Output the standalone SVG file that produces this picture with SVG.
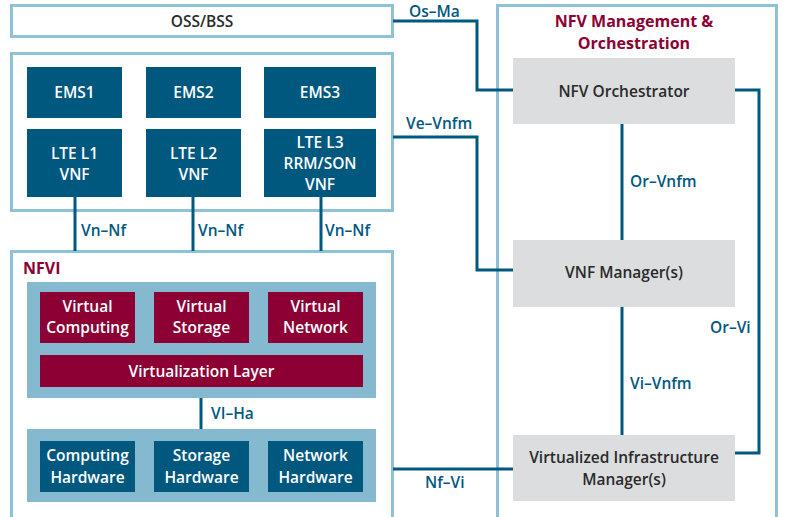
<svg xmlns="http://www.w3.org/2000/svg" width="785" height="517" viewBox="0 0 785 517">
<style>
.cont{fill:#fff;stroke:#8fc1d7;stroke-width:3}
.blue{fill:#00587f}
.red{fill:#8c0033}
.band{fill:#84b9d0}
.grey{fill:#dcdddf}
.wt{fill:#fff;font-family:"Open Sans","Liberation Sans",sans-serif;font-size:15.5px;font-weight:600;text-anchor:middle}
.dt{fill:#2a2a2a;font-family:"Open Sans","Liberation Sans",sans-serif;font-size:15.5px;font-weight:600;text-anchor:middle}
.lbl{fill:#00587f;font-family:"Open Sans","Liberation Sans",sans-serif;font-size:15.5px;font-weight:600}
.ttl{fill:#8c0033;font-family:"Open Sans","Liberation Sans",sans-serif;font-size:16px;font-weight:700}
.ln{fill:none;stroke:#00587f;stroke-width:3}
</style>
<rect width="785" height="517" fill="#fff"/>
<g id="oss">
<rect class="cont" x="11.5" y="5.5" width="381" height="31"/>
<text class="dt" x="202" y="27">OSS/BSS</text>
</g>
<g id="mano">
<rect class="cont" x="497.5" y="5.5" width="279" height="520"/>
<text class="ttl" x="634" y="27" text-anchor="middle">NFV Management &amp;</text>
<text class="ttl" x="634" y="49" text-anchor="middle">Orchestration</text>
</g>
<g id="vnf-domain">
<rect class="cont" x="11.5" y="53.5" width="381" height="157"/>
</g>
<g id="ems1"><rect class="blue" x="27" y="67" width="95" height="51"/><text class="wt" x="74.5" y="98">EMS1</text></g>
<g id="ems2"><rect class="blue" x="146" y="67" width="95" height="51"/><text class="wt" x="193.5" y="98">EMS2</text></g>
<g id="ems3"><rect class="blue" x="264" y="67" width="112" height="51"/><text class="wt" x="320" y="98">EMS3</text></g>
<g id="vnf1"><rect class="blue" x="27" y="129" width="95" height="68"/><text class="wt" x="74.5" y="159">LTE L1</text><text class="wt" x="74.5" y="180.4">VNF</text></g>
<g id="vnf2"><rect class="blue" x="146" y="129" width="95" height="68"/><text class="wt" x="193.5" y="159">LTE L2</text><text class="wt" x="193.5" y="180.4">VNF</text></g>
<g id="vnf3"><rect class="blue" x="264" y="129" width="112" height="68"/><text class="wt" x="320" y="147.6">LTE L3</text><text class="wt" x="320" y="169">RRM/SON</text><text class="wt" x="320" y="190.4">VNF</text></g>
<g id="nfvi">
<rect class="cont" x="11.5" y="251.5" width="381" height="280"/>
<text class="ttl" x="23" y="274">NFVI</text>
</g>
<g id="virt-band"><rect class="band" x="27" y="282" width="349" height="116"/></g>
<g id="vcomp"><rect class="red" x="40" y="292" width="95" height="51"/><text class="wt" x="87.5" y="311.8">Virtual</text><text class="wt" x="87.5" y="333.2">Computing</text></g>
<g id="vstor"><rect class="red" x="154" y="292" width="95" height="51"/><text class="wt" x="201.5" y="311.8">Virtual</text><text class="wt" x="201.5" y="333.2">Storage</text></g>
<g id="vnet"><rect class="red" x="268" y="292" width="95" height="51"/><text class="wt" x="315.5" y="311.8">Virtual</text><text class="wt" x="315.5" y="333.2">Network</text></g>
<g id="vlayer"><rect class="red" x="40" y="355" width="323" height="32"/><text class="wt" x="201.5" y="377">Virtualization Layer</text></g>
<g id="hw-band"><rect class="band" x="27" y="429" width="349" height="73"/></g>
<g id="hcomp"><rect class="blue" x="40" y="441" width="95" height="51"/><text class="wt" x="87.5" y="461.3">Computing</text><text class="wt" x="87.5" y="482.7">Hardware</text></g>
<g id="hstor"><rect class="blue" x="154" y="441" width="95" height="51"/><text class="wt" x="201.5" y="461.3">Storage</text><text class="wt" x="201.5" y="482.7">Hardware</text></g>
<g id="hnet"><rect class="blue" x="268" y="441" width="95" height="51"/><text class="wt" x="315.5" y="461.3">Network</text><text class="wt" x="315.5" y="482.7">Hardware</text></g>
<g id="nfvo"><rect class="grey" x="513" y="58" width="222" height="66"/><text class="dt" x="624" y="97">NFV Orchestrator</text></g>
<g id="vnfm"><rect class="grey" x="513" y="240" width="222" height="67"/><text class="dt" x="624" y="278">VNF Manager(s)</text></g>
<g id="vim"><rect class="grey" x="513" y="435" width="222" height="66"/><text class="dt" x="624" y="463.3">Virtualized Infrastructure</text><text class="dt" x="624" y="484.7">Manager(s)</text></g>
<g id="connectors">
<polyline class="ln" points="393,21 477,21 477,90 513,90"/>
<polyline class="ln" points="393,137 477,137 477,270 513,270"/>
<polyline class="ln" points="735,90 759,90 759,453 735,453"/>
<line class="ln" x1="622" y1="124" x2="622" y2="240"/>
<line class="ln" x1="622" y1="307" x2="622" y2="435"/>
<line class="ln" x1="393" y1="469" x2="513" y2="469"/>
<line class="ln" x1="75" y1="197" x2="75" y2="251"/>
<line class="ln" x1="193" y1="197" x2="193" y2="251"/>
<line class="ln" x1="321" y1="197" x2="321" y2="251"/>
<line class="ln" x1="201" y1="398" x2="201" y2="429"/>
<text class="lbl" x="409" y="17">Os–Ma</text>
<text class="lbl" x="406" y="129">Ve–Vnfm</text>
<text class="lbl" x="630" y="187">Or–Vnfm</text>
<text class="lbl" x="710" y="333">Or–Vi</text>
<text class="lbl" x="630" y="389">Vi–Vnfm</text>
<text class="lbl" x="425" y="488">Nf–Vi</text>
<text class="lbl" x="81" y="236">Vn–Nf</text>
<text class="lbl" x="198" y="236">Vn–Nf</text>
<text class="lbl" x="325" y="236">Vn–Nf</text>
<text class="lbl" x="211" y="419">VI–Ha</text>
</g>
</svg>
